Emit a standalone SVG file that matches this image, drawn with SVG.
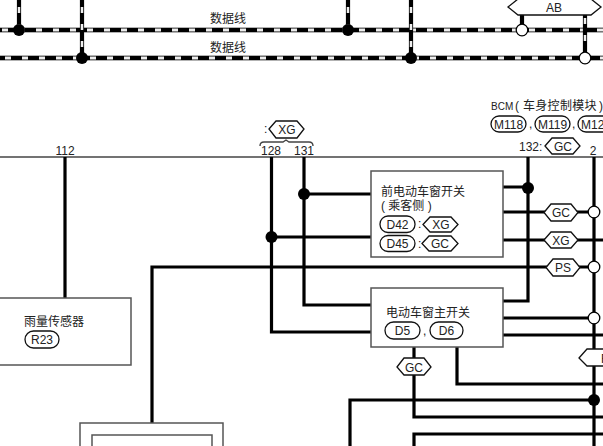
<svg xmlns="http://www.w3.org/2000/svg" width="603" height="446" viewBox="0 0 603 446">
<style>
text{font-family:"Liberation Sans","Noto Sans CJK SC",sans-serif;font-size:12px;fill:#222}
.m{text-anchor:middle}
.w{fill:none;stroke:#000;stroke-width:3.200}
.dg{fill:none;stroke:#999;stroke-width:5.500}
.db{fill:none;stroke:#000;stroke-width:4}
.dw{fill:none;stroke:#eee;stroke-width:3;stroke-dasharray:6 11}
.v{fill:none;stroke:#000;stroke-width:4.200}
.vw{fill:none;stroke:#eee;stroke-width:2.500;stroke-dasharray:6 11}
.box{fill:#fff;stroke:#555;stroke-width:1.500}
.hex{fill:#fff;stroke:#111;stroke-width:1.300}
.pill{fill:#fff;stroke:#111;stroke-width:1.300}
.jb{fill:#000}
.jw{fill:#fff;stroke:#000;stroke-width:1.300}
.rail{stroke:#444;stroke-width:1.400;fill:none}
.sm{font-size:10px}
</style>
<rect width="603" height="446" fill="#fff"/>
<g id="connectors">
<path class="dg" d="M0 30H603M0 58H603"/>
<path class="db" d="M0 30H603M0 58H603"/>
<path class="dw" d="M2 30H603"/>
<path class="dw" d="M5 58H603"/>
<path class="v" d="M19 0V30M82 0V58M348 0V30M411 0V58M522 15V30M585 15V58"/>
<path class="vw" d="M19 7V30M82 7V58M348 7V30M411 7V58M585 18V58"/>
<path class="rail" d="M0 157H603"/>
<path class="w" d="M65 157V298M271.500 157V332H371M304 157V305H371M304 194H371M271.500 237H371"/>
<path class="w" d="M503 187H528M528 157V301H503M503 212H594M503 240H603M152 423V267H594M594 157V446"/>
<path class="w" d="M503 318H594M503 335H603M457 347V384H603M350 446V400H594M414 347V417H603M414 446V434H603"/>
</g>
<g id="labels-top">
<text class="m" x="228" y="23">数据线</text>
<text class="m" x="228" y="52">数据线</text>
</g>
<g id="hex-ab"><path class="hex" d="M508 7L518 -1H591L601 7L591 15H518Z"/><text class="m" x="554" y="12">AB</text></g>
<g id="junctions">
<circle class="jb" cx="19" cy="30" r="6"/><circle class="jb" cx="82" cy="58" r="6"/>
<circle class="jb" cx="348" cy="30" r="6"/><circle class="jb" cx="411" cy="58" r="6"/>
<circle class="jw" cx="522" cy="30" r="5.800"/><circle class="jw" cx="585" cy="58" r="5.800"/>
<circle class="jb" cx="304" cy="194" r="6"/><circle class="jb" cx="271.500" cy="237" r="6"/>
<circle class="jb" cx="528" cy="188" r="6"/><circle class="jb" cx="594" cy="400" r="6"/>
<circle class="jw" cx="594" cy="212" r="5.800"/><circle class="jw" cx="594" cy="267" r="5.800"/><circle class="jw" cx="594" cy="318" r="5.800"/>
</g>
<g id="pins">
<text class="m" x="65" y="155">112</text>
<text class="m" x="271" y="155">128</text>
<text class="m" x="304" y="155">131</text>
<text class="m" x="593" y="155">2</text>
<text x="264" y="133">:</text>
<path class="hex" d="M269 129L276 121H297L304 129L297 138H276Z"/>
<text class="m" x="287" y="134">XG</text>
<path class="rail" d="M260 146Q260 142 264 142H283L286 140L289 142H309Q313 142 313 146"/>
<text x="519" y="151">132:</text>
<path class="hex" d="M545 146L552 138H573L580 146L573 154H552Z"/>
<text class="m" x="563" y="151">GC</text>
</g>
<g id="bcm">
<text class="sm" x="491" y="110">BCM</text>
<text x="515" y="110">(</text>
<text x="523" y="110" style="letter-spacing:.3px">车身控制模块</text>
<text x="599" y="110">)</text>
<rect class="pill" x="491" y="116" width="35" height="16" rx="8"/><text class="m" x="508.500" y="128.500">M118</text>
<text x="529" y="128">,</text>
<rect class="pill" x="535" y="116" width="35" height="16" rx="8"/><text class="m" x="552.500" y="128.500">M119</text>
<text x="572" y="128">,</text>
<rect class="pill" x="578" y="116" width="35" height="16" rx="8"/><text x="581" y="128.500">M12</text>
</g>
<g id="node-front-switch">
<rect class="box" x="371" y="171" width="132" height="86"/>
<text x="381" y="196">前电动车窗开关</text>
<text x="381" y="209.500">( 乘客侧 )</text>
<rect class="pill" x="380" y="216" width="35" height="16.500" rx="8"/><text class="m" x="397.500" y="228.500">D42</text>
<text x="418" y="228">:</text>
<path class="hex" d="M423 224.500L430 217H451L458 224.500L451 232H430Z"/><text class="m" x="441" y="229">XG</text>
<rect class="pill" x="380" y="235.500" width="35" height="16" rx="8"/><text class="m" x="397.500" y="248">D45</text>
<text x="418" y="248">:</text>
<path class="hex" d="M422 243.500L429 236H451L458 243.500L451 251H429Z"/><text class="m" x="440" y="248">GC</text>
</g>
<g id="node-main-switch">
<rect class="box" x="371" y="288" width="132" height="59"/>
<text x="386" y="316.500">电动车窗主开关</text>
<rect class="pill" x="385" y="322" width="35" height="17" rx="8.500"/><text class="m" x="402.500" y="335">D5</text>
<text x="423" y="335">,</text>
<rect class="pill" x="430" y="322" width="33" height="17" rx="8.500"/><text class="m" x="446.500" y="335">D6</text>
</g>
<g id="node-rain-sensor">
<rect class="box" x="-5" y="298" width="136" height="67"/>
<text x="24" y="325.500">雨量传感器</text>
<rect class="pill" x="25" y="331" width="34" height="17" rx="8.500"/><text class="m" x="42" y="344">R23</text>
</g>
<g id="node-lower">
<rect class="box" x="80" y="423" width="143" height="40"/>
<rect class="box" x="92" y="435" width="120" height="30"/>
</g>
<g id="wire-tags">
<path class="hex" d="M544 212.500L551 204H571L578 212.500L571 221H551Z"/><text class="m" x="561" y="217">GC</text>
<path class="hex" d="M544 240L551 232H571L578 240L571 248H551Z"/><text class="m" x="561" y="244.500">XG</text>
<path class="hex" d="M546 267.500L553 259H573L580 267.500L573 276H553Z"/><text class="m" x="563" y="272">PS</text>
<path class="hex" d="M397 367L404 358H424L431 367L424 375H404Z"/><text class="m" x="414" y="371.500">GC</text>
<path class="hex" d="M579 358L587 349H610V366H587Z"/><text x="601" y="362.500">F</text>
</g>
</svg>
